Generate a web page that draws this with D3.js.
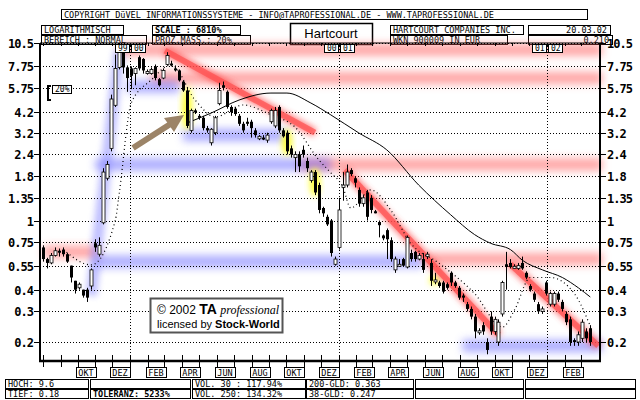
<!DOCTYPE html>
<html><head><meta charset="utf-8">
<script src="https://cdn.jsdelivr.net/npm/d3@7"></script>
<style>
body{margin:0;background:#fff}
text{font-family:"DejaVu Sans Mono",monospace}
</style></head>
<body><svg id="c" width="640" height="400"></svg>
<script>
// weekly candles, week 0 = 1999-08-02
const opens  = [.70,.60,.57,.63,.67,.68,.64,.55,.45,.41,.40,.40,.42,.74,.64,.97,1.75,2.6,4.6,7.6,9.3,7.6,7.5,7.0,8.7,8.5,7.0,7.0,7.7,6.5,6.6,7.9,8.0,7.5,7.3,6.3,5.6,3.3,4.3,4.0,3.9,3.4,2.8,3.2,4.7,6.0,5.5,4.5,4.4,4.0,3.6,3.7,3.7,3.3,2.95,3.0,2.9,3.7,3.5,4.5,3.3,3.2,2.6,2.3,
  2.4,2.55,2.2,1.7,1.9,1.6,1.18,1.05,1.0,.56,.70,1.55,1.6,1.95,1.75,1.5,1.25,1.45,1.35,1.13,.98,.82,.88,.77,.52,.55,.6,.54,.65,.66,.6,.6,.62,.57,.45,.44,.44,.43,.5,.44,.41,.37,.33,.31,.28,.23,.25,.2,.28,.23,.2,.29,.56,.57,.54,.53,.57,.5,.42,.38,.33,.30,.44,.33,.33,.38,.34,.29,.27,.205,.2,.21,.23,.24];
const closes = [.60,.57,.63,.67,.66,.64,.58,.47,.40,.43,.37,.36,.52,.70,.72,1.9,2.1,5.0,7.5,9.5,7.6,6.6,6.8,7.5,7.5,7.3,7.2,7.4,6.6,6.0,7.3,8.9,7.9,7.4,6.4,5.6,3.5,4.3,4.2,3.9,3.4,3.3,3.35,3.9,5.6,5.8,4.5,4.2,4.1,3.6,3.3,3.6,3.4,3.1,3.05,2.98,3.1,4.3,4.3,3.3,3.05,2.5,2.4,2.4,
  2.05,2.4,2.0,1.9,1.45,1.15,1.1,.95,.65,.6,1.15,1.6,1.9,1.85,1.65,1.25,1.35,1.05,1.15,1.12,.94,.79,.78,.6,.6,.56,.55,.8,.6,.6,.63,.52,.64,.45,.455,.42,.39,.41,.44,.42,.36,.36,.31,.28,.23,.232,.23,.18,.23,.27,.26,.44,.54,.54,.545,.55,.53,.47,.40,.35,.30,.31,.38,.38,.38,.35,.31,.26,.20,.2,.22,.26,.21,.20];
const highs  = [.72,.61,.65,.70,.69,.70,.65,.55,.45,.44,.40,.41,.53,.78,.80,2.0,2.2,5.3,9.0,10.5,10.2,7.8,7.7,7.6,8.9,8.6,7.4,7.6,7.9,6.6,7.5,9.3,8.3,7.8,7.4,6.4,5.7,4.4,4.4,4.1,4.0,3.5,3.4,4.0,6.2,6.3,5.6,4.6,4.5,4.1,3.7,3.9,3.8,3.4,3.1,3.1,3.2,4.4,4.5,4.6,3.4,3.3,2.7,2.5,
  2.5,2.7,2.3,1.95,1.95,1.65,1.2,1.08,1.02,.62,1.35,1.9,2.1,2.0,1.8,1.55,1.4,1.5,1.4,1.15,1.0,.83,.9,.8,.62,.6,.61,.82,.68,.67,.65,.65,.66,.6,.5,.45,.45,.44,.51,.45,.42,.38,.34,.32,.29,.24,.26,.21,.3,.28,.27,.45,.66,.6,.56,.57,.62,.51,.43,.39,.34,.32,.45,.39,.39,.39,.35,.30,.28,.21,.23,.27,.24,.25];
const lows   = [.58,.53,.56,.62,.62,.62,.57,.44,.38,.40,.36,.34,.40,.66,.62,.95,1.7,2.5,4.5,7.4,7.0,5.5,5.7,6.0,7.3,7.0,6.9,6.9,6.4,5.9,6.5,7.8,7.7,7.2,6.3,5.5,3.4,3.2,4.1,3.8,3.3,3.2,2.7,3.1,4.6,5.6,4.4,4.0,4.0,3.5,3.2,3.5,3.0,3.0,2.9,2.9,2.8,3.6,3.4,3.2,3.0,2.4,2.3,1.9,
  1.9,2.3,1.9,1.65,1.4,1.1,1.05,.93,.62,.55,.68,1.3,1.55,1.8,1.55,1.2,1.2,1.0,1.1,1.1,.8,.77,.6,.58,.5,.54,.54,.53,.58,.58,.59,.5,.6,.42,.43,.41,.38,.40,.42,.41,.35,.34,.30,.27,.21,.22,.22,.17,.22,.22,.19,.28,.40,.53,.53,.52,.52,.46,.39,.34,.29,.29,.37,.32,.32,.34,.30,.25,.19,.19,.19,.2,.2,.19];

const ma200Week = [36,42,49,57,61,67,72,79,86,94,102,108,112,117,120,125,130,134,137];
const ma200Val  = [3.64,4.15,4.93,5.41,5.41,4.74,4.05,3.19,2.55,1.60,1.08,.83,.74,.68,.59,.52,.47,.41,.363];
const ma38Week = [5,12,18,19,22,27,32,38,43,50,57,63,69,72,75,77,82,87,92,99,108,115,118,122,127,133,137];
const ma38Val  = [.68,.555,1.0,1.44,4.74,6.43,7.85,4.93,3.94,4.62,4.05,3.45,2.23,1.88,1.56,1.18,1.50,1.15,.74,.57,.38,.244,.305,.47,.47,.38,.247];

const yTicks = [10.5,7.75,5.75,4.2,3.2,2.4,1.8,1.35,1,0.75,0.55,0.4,0.3,0.2];
const monthLabels = ["OKT","DEZ","FEB","APR","JUN","AUG","OKT","DEZ","FEB","APR","JUN","AUG","OKT","DEZ","FEB"];
const yearBoxes = [["99","00"],["00","01"],["01","02"]];
// bands: [value, fromWeek, toWeek]
const redBands  = [[9.6,19,140],[6.6,27,140],[2.1,64,140],[0.6,96,140],[0.66,0,14]];
const blueBands = [[5.9,21,34],[3.1,35,61],[2.1,13,72],[0.58,13,95],[0.19,105,140]];
const redTrends = [[[30.5,9.5],[68,3.2]],[[75.5,1.95],[114,0.22]],[[117,0.56],[139,0.19]]];
const blueTrends = [[[12,0.37],[19,9.5]]];
const yellowWeeks = [36,61,68,98];
const infoRows = [["HOCH: 9.6","","VOL. 30 : 117.94%","200-GLD: 0.363","",""],
                  ["TIEF: 0.18","TOLERANZ: 5233%","VOL. 250: 134.32%"," 38-GLD: 0.247","",""]];

const svg = d3.select("#c");
const L = 40, R = 600, T = 43, B = 361;
const start = new Date(1999,7,2);
const wk = i => d3.timeDay.offset(start, i*7);
const x = d3.scaleTime().domain([new Date(1999,6,27), new Date(2002,3,4)]).range([L,R]);
const y = d3.scaleLog().domain([0.2,10.5]).range([342,T]);
const xw = i => x(wk(i));

const defs = svg.append("defs");
defs.append("filter").attr("id","blur").attr("x","-20%").attr("y","-100%").attr("width","140%").attr("height","300%")
  .append("feGaussianBlur").attr("stdDeviation",4);
defs.append("filter").attr("id","blur2").attr("x","-50%").attr("y","-50%").attr("width","200%").attr("height","200%")
  .append("feGaussianBlur").attr("stdDeviation",3);

function box(x0,y0,w,h,txt,opt={}){
  svg.append("rect").attr("x",x0+.5).attr("y",y0+.5).attr("width",w).attr("height",h)
    .attr("fill","#fff").attr("stroke","#000").attr("stroke-width",opt.sw||1);
  if(txt) svg.append("text").attr("x",opt.mid?x0+w/2:opt.right?x0+w-3:x0+3).attr("y",y0+h-1.5)
    .attr("text-anchor",opt.mid?"middle":opt.right?"end":"start")
    .attr("font-size",opt.fs||8.5).attr("font-weight",opt.bold?"bold":"normal").text(txt);
}
// header
box(61,9,526,10,"COPYRIGHT  DüVEL INFORMATIONSSYSTEME - INFO@TAPROFESSIONAL.DE - WWW.TAPROFESSIONAL.DE");
box(41,25,82,9,"LOGARITHMISCH");
box(41,35,105,9,"BEREICH : NORMAL");
box(152,25,88,9,"SCALE : 6810%",{bold:true});
box(152,35,98,9,"PROZ.MASS.: 20%");
box(290,23,82,21,"",{sw:1.5});
svg.append("text").attr("x",331).attr("y",38).attr("text-anchor","middle")
  .style("font-family","Liberation Sans, Arial").attr("font-size",13).text("Hartcourt");
box(390,25,133,9,"HARTCOURT COMPANIES INC.");
box(528,25,82,9,"20.03.02",{right:true});
box(390,35,117,9,"WKN 900009  IN EUR");
box(528,35,84,9,"0.210",{right:true});

// bands
const bg = svg.append("g");
redBands.forEach(([v,a,b]) => bg.append("rect").attr("x",xw(a)).attr("width",xw(b)-xw(a))
  .attr("y",y(v)-6).attr("height",12).attr("fill","#ff5a5a").attr("opacity",0.55).attr("filter","url(#blur)"));
blueBands.forEach(([v,a,b]) => bg.append("rect").attr("x",xw(a)).attr("width",xw(b)-xw(a))
  .attr("y",y(v)-6).attr("height",12).attr("fill","#5a5aff").attr("opacity",0.5).attr("filter","url(#blur)"));
blueTrends.forEach(([p,q]) => bg.append("line").attr("x1",xw(p[0])).attr("y1",y(p[1])).attr("x2",xw(q[0])).attr("y2",y(q[1]))
  .attr("stroke","#8c8cff").attr("stroke-width",11).attr("opacity",0.55).attr("filter","url(#blur2)"));
yellowWeeks.forEach(i => bg.append("ellipse").attr("cx",xw(i)).attr("cy",y(Math.sqrt(opens[i]*closes[i])))
  .attr("rx",5).attr("ry",Math.abs(y(opens[i])-y(closes[i]))/2+4).attr("fill","#ffff30").attr("filter","url(#blur2)"));

// grid
svg.append("g").selectAll("line").data(yTicks).join("line")
  .attr("x1",L).attr("x2",R).attr("y1",d=>Math.round(y(d))+.5).attr("y2",d=>Math.round(y(d))+.5)
  .attr("stroke","#000").attr("stroke-dasharray","1,2");
const years = [new Date(2000,0,1),new Date(2001,0,1),new Date(2002,0,1)];
svg.append("g").selectAll("line").data(years).join("line")
  .attr("x1",d=>Math.round(x(d))+.5).attr("x2",d=>Math.round(x(d))+.5).attr("y1",T).attr("y2",B)
  .attr("stroke","#000").attr("stroke-dasharray","1,2");

// red trend lines
redTrends.forEach(([p,q]) => svg.append("line").attr("x1",xw(p[0])).attr("y1",y(p[1])).attr("x2",xw(q[0])).attr("y2",y(q[1]))
  .attr("stroke","#ff4040").attr("stroke-width",8).attr("opacity",0.75).attr("filter","url(#blur2)"));
redTrends.forEach(([p,q]) => svg.append("line").attr("x1",xw(p[0])).attr("y1",y(p[1])).attr("x2",xw(q[0])).attr("y2",y(q[1]))
  .attr("stroke","#ff5050").attr("stroke-width",6).attr("opacity",0.7));

// moving averages
const line = d3.line().x(d=>xw(d[0])).y(d=>y(d[1])).curve(d3.curveMonotoneX);
svg.append("path").attr("d",line(ma200Week.map((w,i)=>[w,ma200Val[i]]))).attr("fill","none").attr("stroke","#000").attr("stroke-width",1);
svg.append("path").attr("d",line(ma38Week.map((w,i)=>[w,ma38Val[i]]))).attr("fill","none").attr("stroke","#000").attr("stroke-width",1.2).attr("stroke-dasharray","1,3");

// candles
const cg = svg.append("g");
opens.forEach((o,i) => {
  const c = closes[i], cx = Math.round(xw(i));
  cg.append("line").attr("x1",cx+.5).attr("x2",cx+.5).attr("y1",y(highs[i])).attr("y2",y(lows[i])).attr("stroke","#000");
  const top = y(Math.max(o,c)), h = Math.max(2, Math.abs(y(o)-y(c)));
  cg.append("rect").attr("x",cx-1).attr("y",top).attr("width",3).attr("height",h)
    .attr("fill",c>=o?"#fff":"#000").attr("stroke","#000").attr("stroke-width",c>=o?0.8:0);
});

// arrow
svg.append("line").attr("x1",133).attr("y1",148).attr("x2",172).attr("y2",123).attr("stroke","#9c8468").attr("stroke-width",6);
svg.append("path").attr("d","M184,115 L164,118 L174,132 Z").attr("fill","#9c8468");

// 20% marker
svg.append("path").attr("d","M51,86 L48,86 L48,100 L51,100").attr("fill","none").attr("stroke","#000").attr("stroke-width",2);
box(52,85,19,8,"20%",{fs:8});

// frame & axes
svg.append("line").attr("x1",L).attr("x2",L).attr("y1",T).attr("y2",B).attr("stroke","#000").attr("stroke-width",2);
svg.append("line").attr("x1",R).attr("x2",R).attr("y1",T).attr("y2",B).attr("stroke","#000").attr("stroke-width",2);
svg.append("line").attr("x1",L).attr("x2",R).attr("y1",T).attr("y2",T).attr("stroke","#000");
svg.append("line").attr("x1",L-1).attr("x2",R+1).attr("y1",B).attr("y2",B).attr("stroke","#000").attr("stroke-width",2.5);
yTicks.forEach(v => {
  const yy = Math.round(y(v))+.5;
  svg.append("line").attr("x1",L-6).attr("x2",L).attr("y1",yy).attr("y2",yy).attr("stroke","#000");
  svg.append("line").attr("x1",R).attr("x2",R+6).attr("y1",yy).attr("y2",yy).attr("stroke","#000");
  svg.append("text").attr("x",L-7).attr("y",yy+4).attr("text-anchor","end").attr("font-size",12).attr("font-weight","bold").attr("letter-spacing",-1).text(v);
  svg.append("text").attr("x",R+7).attr("y",yy+4).attr("font-size",12).attr("font-weight","bold").attr("letter-spacing",-1).text(v);
});
const months = d3.timeMonth.range(new Date(1999,7,1), new Date(2002,3,1));
months.forEach(m => {
  const mx = Math.round(x(m))+.5;
  svg.append("line").attr("x1",mx).attr("x2",mx).attr("y1",T).attr("y2",T+3).attr("stroke","#000");
  svg.append("line").attr("x1",mx).attr("x2",mx).attr("y1",B-6).attr("y2",B+6).attr("stroke","#000");
});
const labMonths = d3.timeMonth.range(new Date(1999,9,1), new Date(2002,2,1), 2);
labMonths.forEach((m,i) => {
  const mx = x(d3.timeDay.offset(m,14));
  box(Math.round(mx-10),367,20,10,monthLabels[i],{mid:true,fs:8.5});
});
years.forEach((d,i) => {
  const yx = Math.round(x(d));
  box(yx-15,44,14,8,yearBoxes[i][0],{fs:8});
  box(yx+1,44,14,8,yearBoxes[i][1],{fs:8});
});

// watermark
svg.append("rect").attr("x",150.5).attr("y",298.5).attr("width",132).attr("height",34).attr("fill","#fff").attr("stroke","#555").attr("stroke-width",2);
const wm = svg.append("text").attr("x",157).attr("y",314).style("font-family","Liberation Sans, Arial");
wm.append("tspan").attr("font-size",12).text("© 2002 ");
wm.append("tspan").attr("font-size",14).attr("font-weight","bold").text("TA ");
wm.append("tspan").attr("font-size",12).style("font-family","Liberation Serif").attr("font-style","italic").text("professional");
const wm2 = svg.append("text").attr("x",157).attr("y",328).style("font-family","Liberation Sans, Arial").attr("font-size",11);
wm2.append("tspan").text("licensed by ");
wm2.append("tspan").attr("font-weight","bold").text("Stock-World");

// info boxes
const cols = [[5,83],[90,100],[192,113],[306,107],[415,108],[525,110]];
infoRows.forEach((row,r) => row.forEach((t,c) =>
  box(cols[c][0],379+r*10,cols[c][1],9,t,{bold:t.startsWith("TOLERANZ")})));
</script></body></html>
